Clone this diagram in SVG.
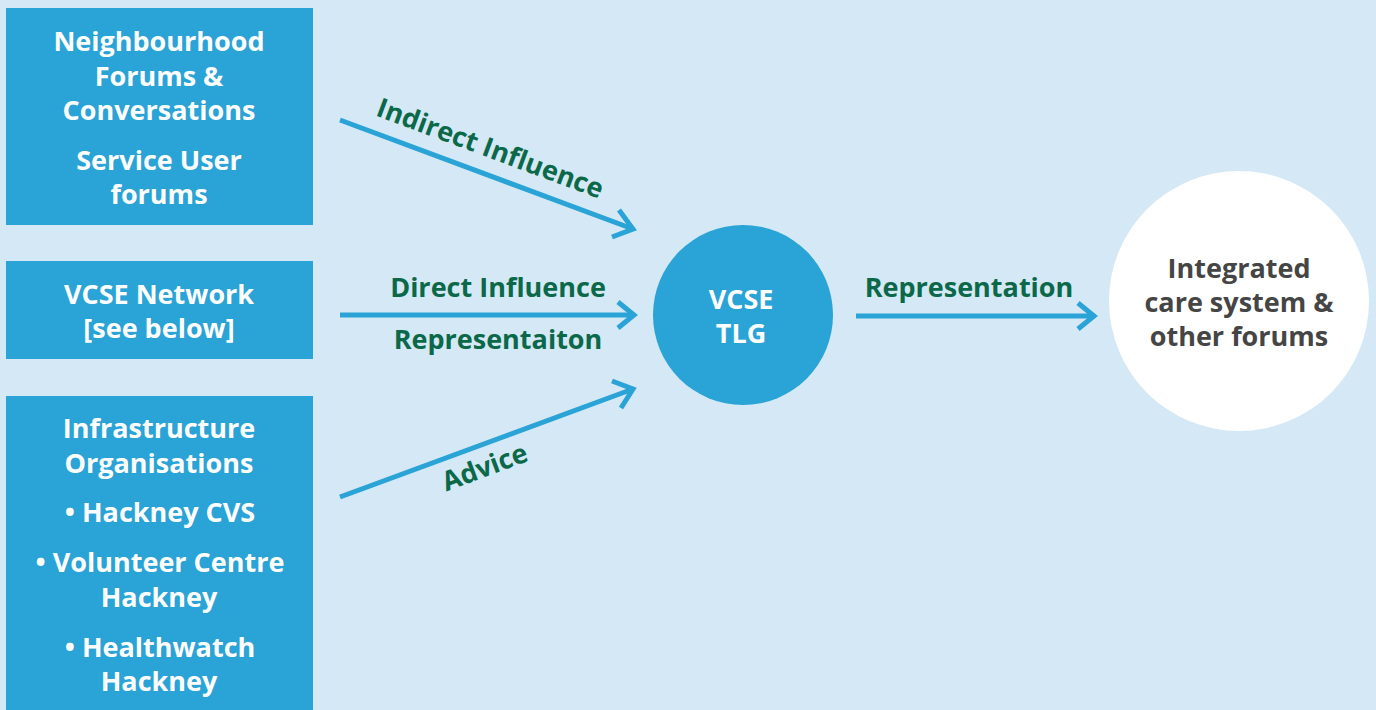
<svg xmlns="http://www.w3.org/2000/svg" width="1376" height="710" viewBox="0 0 1376 710">
<defs>
<style>
.box{fill:#2aa3d6}
.wt,.gt,.dt{font-family:"Open Sans",Lato,sans-serif;font-weight:bold;font-size:27px;text-anchor:middle}
.wt{fill:#ffffff}
.gt{fill:#0b6848}
.dt{fill:#454545}
.conn{stroke:#2aa3d6;stroke-width:5;fill:none}
.head{stroke:#2aa3d6;stroke-width:5;fill:none;stroke-linecap:butt}
</style>
</defs>
<rect x="0" y="0" width="1376" height="710" fill="#d4e8f6"/>
<g id="node-neighbourhood">
<rect class="box" x="6" y="8" width="307" height="217"/>
<text class="wt" x="159" y="51">Neighbourhood</text>
<text class="wt" x="159" y="86">Forums &amp;</text>
<text class="wt" x="159" y="120">Conversations</text>
<text class="wt" x="159" y="170">Service User</text>
<text class="wt" x="159" y="204">forums</text>
</g>
<g id="node-vcse-network">
<rect class="box" x="6" y="261" width="307" height="98"/>
<text class="wt" x="159" y="304">VCSE Network</text>
<text class="wt" x="159" y="338">[see below]</text>
</g>
<g id="node-infrastructure">
<rect class="box" x="6" y="396" width="307" height="314"/>
<text class="wt" x="159" y="438">Infrastructure</text>
<text class="wt" x="159" y="473">Organisations</text>
<text class="wt" x="160" y="522">•  Hackney CVS</text>
<text class="wt" x="160" y="572">•  Volunteer Centre</text>
<text class="wt" x="159" y="607">Hackney</text>
<text class="wt" x="160" y="657">•  Healthwatch</text>
<text class="wt" x="159" y="691">Hackney</text>
</g>
<g id="node-tlg">
<circle cx="743" cy="315" r="90" fill="#2aa3d6"/>
<text class="wt" x="741" y="309">VCSE</text>
<text class="wt" x="741" y="343">TLG</text>
</g>
<g id="node-ics">
<circle cx="1239" cy="301" r="130" fill="#ffffff"/>
<text class="dt" x="1239" y="278">Integrated</text>
<text class="dt" x="1239" y="312">care system &amp;</text>
<text class="dt" x="1239" y="346">other forums</text>
</g>
<g id="connectors">
<line class="conn" x1="340" y1="120" x2="633" y2="229"/>
<path class="head" d="M619,210 L633,229 L612,237"/>
<line class="conn" x1="340" y1="315" x2="634" y2="315"/>
<path class="head" d="M618,302 L634,315 L618,328"/>
<line class="conn" x1="340" y1="497" x2="633" y2="389"/>
<path class="head" d="M612,381 L633,389 L621,408"/>
<line class="conn" x1="856" y1="316" x2="1094" y2="316"/>
<path class="head" d="M1078,303 L1094,316 L1078,329"/>
<text class="gt" transform="translate(487,157) rotate(20.4)">Indirect Influence</text>
<text class="gt" x="498" y="297">Direct Influence</text>
<text class="gt" x="498" y="349">Representaiton</text>
<text class="gt" transform="translate(488,476) rotate(-20.4)">Advice</text>
<text class="gt" x="969" y="297">Representation</text>
</g>
</svg>
